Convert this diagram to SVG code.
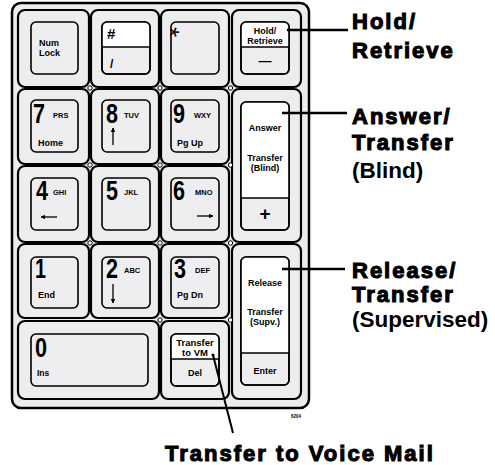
<svg xmlns="http://www.w3.org/2000/svg" width="495" height="465" viewBox="0 0 495 465">
<defs>
<marker id="ah" viewBox="0 0 10 10" refX="9" refY="5" markerWidth="4.5" markerHeight="4.5" orient="auto" markerUnits="userSpaceOnUse">
<path d="M0,0 L10,5 L0,10 Z" fill="#000"/>
</marker>
</defs>
<style>
.frame{fill:#ececec;stroke:#000;stroke-width:2.5}
.cell{fill:#ededee;stroke:#000;stroke-width:2.2}
.cap{fill:#eeeef0;stroke:#000;stroke-width:1.6}
.capo{fill:none;stroke:#000;stroke-width:1.6}
.wt{fill:#fff}
.dv{stroke:#000;stroke-width:1.4}
.dot{fill:#fff;stroke:#000;stroke-width:1}
.k{font-family:"Liberation Sans",Arial,sans-serif;font-weight:bold;font-size:9px;fill:#000}
.kc{font-family:"Liberation Sans",Arial,sans-serif;font-weight:bold;font-size:9px;fill:#000;text-anchor:middle}
.sm{font-family:"Liberation Sans",Arial,sans-serif;font-weight:bold;font-size:7.5px;fill:#000}
.dg{font-family:"Liberation Sans",Arial,sans-serif;font-weight:bold;font-size:28px;fill:#000}
.ar{stroke:#000;stroke-width:1.3;fill:none;marker-end:url(#ah)}
.cl{stroke:#000;stroke-width:2.6;fill:none}
.hv{font-family:"Liberation Sans",Arial,sans-serif;font-weight:bold;font-size:22px;fill:#000;stroke:#000;stroke-width:1.1;letter-spacing:2px}
.lb{font-family:"Liberation Sans",Arial,sans-serif;font-weight:bold;font-size:22.5px;fill:#000}
</style>
<rect width="495" height="465" fill="#fff"/>
<rect class="frame" x="12" y="3" width="297" height="405" rx="9"/>

<g id="numlock">
<rect class="cell" x="18" y="10" width="71" height="77" rx="7"/>
<rect class="cap" x="31" y="22" width="47" height="52" rx="5"/>
<text class="k" x="39" y="46">Num</text>
<text class="k" x="39" y="56">Lock</text>
</g>
<g id="hash">
<rect class="cell" x="91" y="10" width="68" height="77" rx="7"/>
<rect class="cap" x="102" y="22" width="48" height="52" rx="5"/>
<path class="wt" d="M102,47 V27 Q102,22 107,22 H145 Q150,22 150,27 V47 Z"/>
<line class="dv" x1="102" y1="47" x2="150" y2="47"/>
<rect class="capo" x="102" y="22" width="48" height="52" rx="5"/>
<text class="k" x="107" y="39" style="font-size:15px">#</text>
<text class="k" x="110" y="68" style="font-size:12px">/</text>
</g>
<g id="star">
<rect class="cell" x="161" y="10" width="68" height="77" rx="7"/>
<rect class="cap" x="171" y="22" width="48" height="52" rx="5"/>
<text class="k" x="176.5" y="48" style="font-size:26px;font-weight:normal" text-anchor="middle" transform="rotate(90 176.5 32)">*</text>
</g>
<g id="hold">
<rect class="cell" x="232" y="10" width="69" height="77" rx="7"/>
<rect class="cap" x="241" y="22" width="48" height="52" rx="5"/>
<path class="wt" d="M241,47 V27 Q241,22 246,22 H284 Q289,22 289,27 V47 Z"/>
<line class="dv" x1="241" y1="47" x2="289" y2="47"/>
<rect class="capo" x="241" y="22" width="48" height="52" rx="5"/>
<text class="kc" x="265" y="34">Hold/</text>
<text class="kc" x="265" y="44">Retrieve</text>
<text class="kc" x="265" y="65" style="font-size:13px">—</text>
</g>

<g id="k7">
<rect class="cell" x="18" y="89" width="71" height="75" rx="7"/>
<rect class="cap" x="31" y="100" width="47" height="52" rx="5"/>
<text class="dg" x="33" y="123" textLength="12" lengthAdjust="spacingAndGlyphs">7</text>
<text class="sm" x="53" y="118">PRS</text>
<text class="k" x="38" y="146">Home</text>
</g>
<g id="k8">
<rect class="cell" x="91" y="89" width="68" height="75" rx="7"/>
<rect class="cap" x="102" y="100" width="48" height="52" rx="5"/>
<text class="dg" x="106" y="123" textLength="12" lengthAdjust="spacingAndGlyphs">8</text>
<text class="sm" x="124" y="118">TUV</text>
<line class="ar" x1="113" y1="145" x2="113" y2="128"/>
</g>
<g id="k9">
<rect class="cell" x="161" y="89" width="68" height="75" rx="7"/>
<rect class="cap" x="171" y="100" width="48" height="52" rx="5"/>
<text class="dg" x="173" y="123" textLength="12" lengthAdjust="spacingAndGlyphs">9</text>
<text class="sm" x="194" y="118">WXY</text>
<text class="k" x="177" y="146">Pg Up</text>
</g>
<g id="answer">
<rect class="cell" x="232" y="89" width="69" height="153" rx="7"/>
<rect class="cap" x="241" y="102" width="48" height="128" rx="5"/>
<path class="wt" d="M241,198 V107 Q241,102 246,102 H284 Q289,102 289,107 V198 Z"/>
<line class="dv" x1="241" y1="198" x2="289" y2="198"/>
<rect class="capo" x="241" y="102" width="48" height="128" rx="5"/>
<text class="kc" x="265" y="131">Answer</text>
<text class="kc" x="265" y="161">Transfer</text>
<text class="kc" x="265" y="171">(Blind)</text>
<text class="kc" x="265" y="220" style="font-size:19px">+</text>
</g>

<g id="k4">
<rect class="cell" x="18" y="166" width="71" height="76" rx="7"/>
<rect class="cap" x="31" y="178" width="47" height="52" rx="5"/>
<text class="dg" x="36" y="200" textLength="12" lengthAdjust="spacingAndGlyphs">4</text>
<text class="sm" x="53" y="195">GHI</text>
<line class="ar" x1="57" y1="217" x2="41" y2="217"/>
</g>
<g id="k5">
<rect class="cell" x="91" y="166" width="68" height="76" rx="7"/>
<rect class="cap" x="102" y="178" width="48" height="52" rx="5"/>
<text class="dg" x="106" y="200" textLength="12" lengthAdjust="spacingAndGlyphs">5</text>
<text class="sm" x="124" y="195">JKL</text>
</g>
<g id="k6">
<rect class="cell" x="161" y="166" width="68" height="76" rx="7"/>
<rect class="cap" x="171" y="178" width="48" height="52" rx="5"/>
<text class="dg" x="173" y="200" textLength="12" lengthAdjust="spacingAndGlyphs">6</text>
<text class="sm" x="195" y="195">MNO</text>
<line class="ar" x1="197" y1="216" x2="213" y2="216"/>
</g>

<g id="k1">
<rect class="cell" x="18" y="244" width="71" height="74" rx="7"/>
<rect class="cap" x="31" y="257" width="47" height="51" rx="5"/>
<text class="dg" x="35" y="278" textLength="11" lengthAdjust="spacingAndGlyphs">1</text>
<text class="k" x="38" y="298">End</text>
</g>
<g id="k2">
<rect class="cell" x="91" y="244" width="68" height="74" rx="7"/>
<rect class="cap" x="102" y="257" width="48" height="51" rx="5"/>
<text class="dg" x="106" y="278" textLength="12" lengthAdjust="spacingAndGlyphs">2</text>
<text class="sm" x="124" y="273">ABC</text>
<line class="ar" x1="113" y1="284" x2="113" y2="303"/>
</g>
<g id="k3">
<rect class="cell" x="161" y="244" width="68" height="74" rx="7"/>
<rect class="cap" x="171" y="257" width="48" height="51" rx="5"/>
<text class="dg" x="174" y="278" textLength="12" lengthAdjust="spacingAndGlyphs">3</text>
<text class="sm" x="195" y="273">DEF</text>
<text class="k" x="177" y="298">Pg Dn</text>
</g>
<g id="release">
<rect class="cell" x="232" y="244" width="69" height="155" rx="7"/>
<rect class="cap" x="241" y="257" width="48" height="128" rx="5"/>
<path class="wt" d="M241,353 V262 Q241,257 246,257 H284 Q289,257 289,262 V353 Z"/>
<line class="dv" x1="241" y1="353" x2="289" y2="353"/>
<rect class="capo" x="241" y="257" width="48" height="128" rx="5"/>
<text class="kc" x="265" y="286">Release</text>
<text class="kc" x="265" y="315">Transfer</text>
<text class="kc" x="265" y="325">(Supv.)</text>
<text class="kc" x="265" y="374">Enter</text>
</g>

<g id="k0">
<rect class="cell" x="18" y="321" width="141" height="78" rx="7"/>
<rect class="cap" x="31" y="334" width="117" height="52" rx="5"/>
<text class="dg" x="35" y="357" textLength="12" lengthAdjust="spacingAndGlyphs">0</text>
<text class="k" x="37" y="376" style="font-size:8.5px">Ins</text>
</g>
<g id="transfervm">
<rect class="cell" x="161" y="321" width="68" height="78" rx="7"/>
<rect class="cap" x="171" y="334" width="48" height="52" rx="5"/>
<path class="wt" d="M171,359 V339 Q171,334 176,334 H214 Q219,334 219,339 V359 Z"/>
<line class="dv" x1="171" y1="359" x2="219" y2="359"/>
<rect class="capo" x="171" y="334" width="48" height="52" rx="5"/>
<text class="kc" x="195" y="346" style="font-size:9.5px">Transfer</text>
<text class="kc" x="195" y="356" style="font-size:9.5px">to VM</text>
<text class="kc" x="195" y="376">Del</text>
</g>

<g id="junctions">
<circle class="dot" cx="90" cy="88" r="2.2"/>
<circle class="dot" cx="160" cy="88" r="2.2"/>
<circle class="dot" cx="230.5" cy="88" r="2.2"/>
<circle class="dot" cx="90" cy="165" r="2.2"/>
<circle class="dot" cx="160" cy="165" r="2.2"/>
<circle class="dot" cx="230.5" cy="165" r="2.2"/>
<circle class="dot" cx="90" cy="243" r="2.2"/>
<circle class="dot" cx="160" cy="243" r="2.2"/>
<circle class="dot" cx="230.5" cy="243" r="2.2"/>
<circle class="dot" cx="160" cy="320" r="2.2"/>
<circle class="dot" cx="230.5" cy="320" r="2.2"/>
</g>

<text x="291" y="418" style="font-family:'Liberation Sans',Arial,sans-serif;font-size:4.5px;font-weight:bold;fill:#000">6204</text>

<g id="connectors">
<line class="cl" x1="287" y1="30" x2="348" y2="30"/>
<line class="cl" x1="282" y1="113" x2="347" y2="113"/>
<line class="cl" x1="282" y1="269" x2="345" y2="269"/>
<line class="cl" x1="213" y1="355" x2="233" y2="433" style="stroke-width:2"/>
<circle cx="213" cy="355" r="1.6" fill="#000"/>
</g>

<g id="labels">
<text class="hv" x="352" y="29">Hold/</text>
<text class="hv" x="352" y="58">Retrieve</text>
<text class="hv" x="352" y="124">Answer/</text>
<text class="hv" x="352" y="150">Transfer</text>
<text class="lb" x="352" y="178">(Blind)</text>
<text class="hv" x="352" y="278">Release/</text>
<text class="hv" x="352" y="302">Transfer</text>
<text class="lb" x="352" y="327">(Supervised)</text>
<text class="hv" x="165" y="461">Transfer to Voice Mail</text>
</g>
</svg>
